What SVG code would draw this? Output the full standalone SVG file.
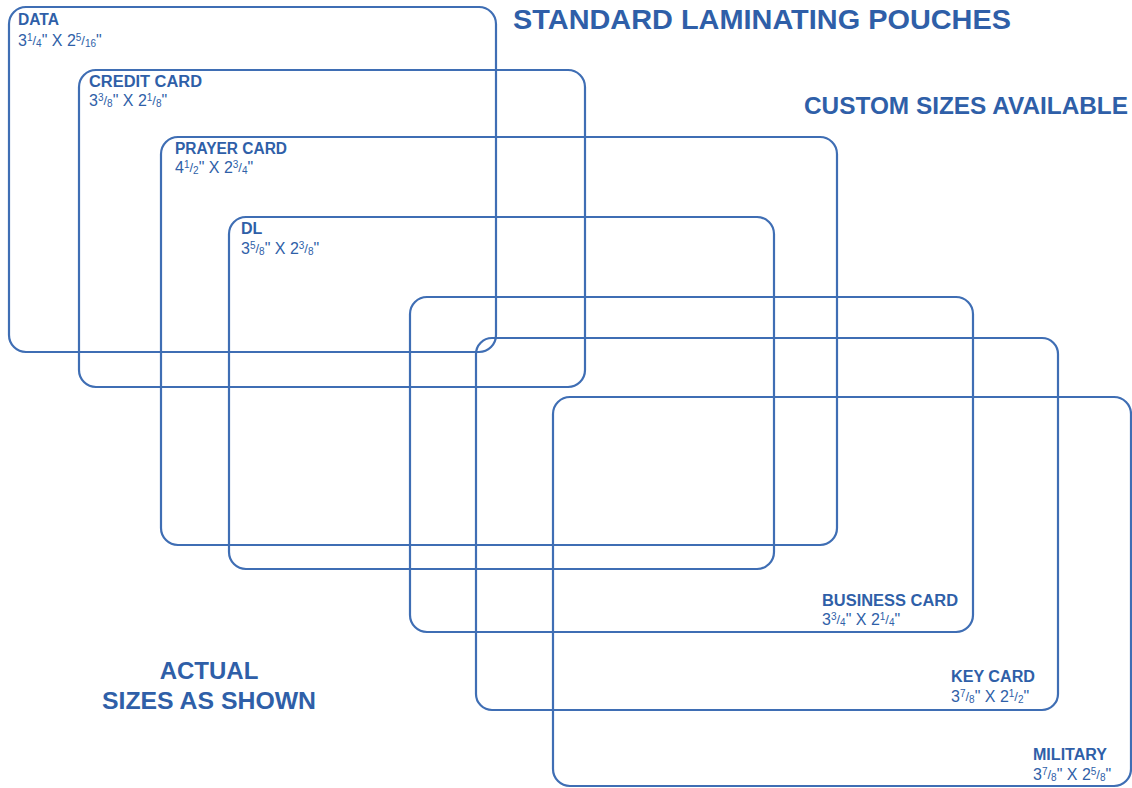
<svg xmlns="http://www.w3.org/2000/svg" width="1132" height="788" viewBox="0 0 1132 788">
<style>
.card{fill:none;stroke:#3f6eb4;stroke-width:2.2}
text{font-family:"Liberation Sans",Arial,sans-serif;fill:#2f5fa8}
.lbl{font-size:16px;font-weight:bold}
.dim{font-size:16px}
.fr{font-size:10px}
.sl{font-size:13px}
.head{font-weight:bold}
</style>
<rect width="1132" height="788" fill="#ffffff"/>
<g id="cards">
<g id="data"><rect class="card" x="9" y="7" width="487" height="345" rx="17"/></g>
<g id="credit-card"><rect class="card" x="79" y="70" width="506" height="317" rx="17"/></g>
<g id="prayer-card"><rect class="card" x="161" y="137" width="676" height="408" rx="17"/></g>
<g id="dl"><rect class="card" x="229" y="217" width="545" height="352" rx="17"/></g>
<g id="business-card"><rect class="card" x="410" y="297" width="563" height="335" rx="17"/></g>
<g id="key-card"><rect class="card" x="476" y="338" width="582" height="372" rx="16"/></g>
<g id="military"><rect class="card" x="553" y="397" width="578" height="389" rx="17"/></g>
</g>
<g id="labels">
<g id="data-label">
<text class="lbl" x="18" y="25" textLength="41" lengthAdjust="spacingAndGlyphs">DATA</text>
<text class="dim" x="18" y="46">3<tspan class="fr" dy="-5">1</tspan><tspan class="sl" dy="4">/</tspan><tspan class="fr" dy="2">4</tspan><tspan dy="-1">" X 2</tspan><tspan class="fr" dy="-5">5</tspan><tspan class="sl" dy="4">/</tspan><tspan class="fr" dy="2">16</tspan><tspan dy="-1">"</tspan></text>
</g>
<g id="credit-label">
<text class="lbl" x="89" y="87" textLength="113" lengthAdjust="spacingAndGlyphs">CREDIT CARD</text>
<text class="dim" x="89" y="106">3<tspan class="fr" dy="-5">3</tspan><tspan class="sl" dy="4">/</tspan><tspan class="fr" dy="2">8</tspan><tspan dy="-1">" X 2</tspan><tspan class="fr" dy="-5">1</tspan><tspan class="sl" dy="4">/</tspan><tspan class="fr" dy="2">8</tspan><tspan dy="-1">"</tspan></text>
</g>
<g id="prayer-label">
<text class="lbl" x="175" y="154" textLength="112" lengthAdjust="spacingAndGlyphs">PRAYER CARD</text>
<text class="dim" x="175" y="173">4<tspan class="fr" dy="-5">1</tspan><tspan class="sl" dy="4">/</tspan><tspan class="fr" dy="2">2</tspan><tspan dy="-1">" X 2</tspan><tspan class="fr" dy="-5">3</tspan><tspan class="sl" dy="4">/</tspan><tspan class="fr" dy="2">4</tspan><tspan dy="-1">"</tspan></text>
</g>
<g id="dl-label">
<text class="lbl" x="241" y="234">DL</text>
<text class="dim" x="241" y="254">3<tspan class="fr" dy="-5">5</tspan><tspan class="sl" dy="4">/</tspan><tspan class="fr" dy="2">8</tspan><tspan dy="-1">" X 2</tspan><tspan class="fr" dy="-5">3</tspan><tspan class="sl" dy="4">/</tspan><tspan class="fr" dy="2">8</tspan><tspan dy="-1">"</tspan></text>
</g>
<g id="business-label">
<text class="lbl" x="822" y="606" textLength="136" lengthAdjust="spacingAndGlyphs">BUSINESS CARD</text>
<text class="dim" x="822" y="625">3<tspan class="fr" dy="-5">3</tspan><tspan class="sl" dy="4">/</tspan><tspan class="fr" dy="2">4</tspan><tspan dy="-1">" X 2</tspan><tspan class="fr" dy="-5">1</tspan><tspan class="sl" dy="4">/</tspan><tspan class="fr" dy="2">4</tspan><tspan dy="-1">"</tspan></text>
</g>
<g id="key-label">
<text class="lbl" x="951" y="682" textLength="84" lengthAdjust="spacingAndGlyphs">KEY CARD</text>
<text class="dim" x="951" y="702">3<tspan class="fr" dy="-5">7</tspan><tspan class="sl" dy="4">/</tspan><tspan class="fr" dy="2">8</tspan><tspan dy="-1">" X 2</tspan><tspan class="fr" dy="-5">1</tspan><tspan class="sl" dy="4">/</tspan><tspan class="fr" dy="2">2</tspan><tspan dy="-1">"</tspan></text>
</g>
<g id="military-label">
<text class="lbl" x="1033" y="760" textLength="74" lengthAdjust="spacingAndGlyphs">MILITARY</text>
<text class="dim" x="1033" y="780">3<tspan class="fr" dy="-5">7</tspan><tspan class="sl" dy="4">/</tspan><tspan class="fr" dy="2">8</tspan><tspan dy="-1">" X 2</tspan><tspan class="fr" dy="-5">5</tspan><tspan class="sl" dy="4">/</tspan><tspan class="fr" dy="2">8</tspan><tspan dy="-1">"</tspan></text>
</g>
</g>
<g id="headings">
<text class="head" x="513" y="29" font-size="28" textLength="498" lengthAdjust="spacingAndGlyphs">STANDARD LAMINATING POUCHES</text>
<text class="head" x="804" y="114" font-size="24" textLength="324" lengthAdjust="spacingAndGlyphs">CUSTOM SIZES AVAILABLE</text>
<text class="head" x="209" y="679" font-size="24" text-anchor="middle">ACTUAL</text>
<text class="head" x="102" y="709" font-size="24" textLength="214" lengthAdjust="spacingAndGlyphs">SIZES AS SHOWN</text>
</g>
</svg>
